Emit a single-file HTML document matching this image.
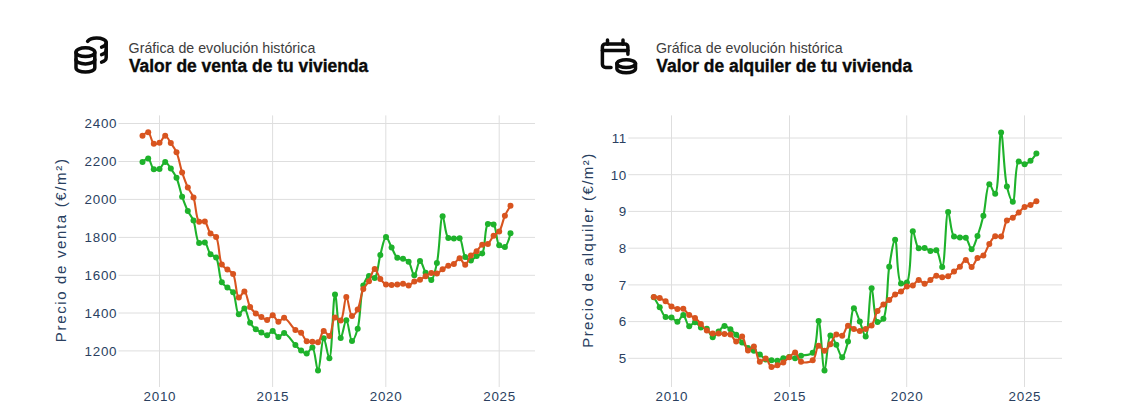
<!DOCTYPE html>
<html><head><meta charset="utf-8"><title>Valor de tu vivienda</title>
<style>
html,body{margin:0;padding:0;background:#fff}
body{width:1141px;height:411px;position:relative;overflow:hidden;font-family:"Liberation Sans",sans-serif}
.h{position:absolute;white-space:nowrap}
.sub{font-size:14.2px;color:#3d3d3d;top:37.5px;line-height:20px;letter-spacing:0.02px}
.tit{font-size:17.45px;font-weight:bold;color:#0a0a0a;-webkit-text-stroke:0.35px #0a0a0a;top:54.9px;line-height:22px}
</style></head><body>
<svg width="1141" height="411" viewBox="0 0 1141 411" style="position:absolute;left:0;top:0;font-family:'Liberation Sans',sans-serif">
<g stroke="#dedede" stroke-width="1" shape-rendering="auto">
<line x1="159.5" x2="159.5" y1="115.4" y2="387.0"/><line x1="272.6" x2="272.6" y1="115.4" y2="387.0"/><line x1="385.8" x2="385.8" y1="115.4" y2="387.0"/><line x1="499.2" x2="499.2" y1="115.4" y2="387.0"/><line x1="118.5" x2="535.0" y1="123.5" y2="123.5"/><line x1="118.5" x2="535.0" y1="161.5" y2="161.5"/><line x1="118.5" x2="535.0" y1="199.4" y2="199.4"/><line x1="118.5" x2="535.0" y1="237.4" y2="237.4"/><line x1="118.5" x2="535.0" y1="275.3" y2="275.3"/><line x1="118.5" x2="535.0" y1="313.0" y2="313.0"/><line x1="118.5" x2="535.0" y1="350.9" y2="350.9"/></g>
<g fill="#2a3f5f" font-size="13.4" letter-spacing="0.7">
<text x="159.9" y="401.3" text-anchor="middle">2010</text><text x="272.9" y="401.3" text-anchor="middle">2015</text><text x="386.1" y="401.3" text-anchor="middle">2020</text><text x="499.6" y="401.3" text-anchor="middle">2025</text><text x="117.2" y="128.3" text-anchor="end">2400</text><text x="117.2" y="166.3" text-anchor="end">2200</text><text x="117.2" y="204.2" text-anchor="end">2000</text><text x="117.2" y="242.2" text-anchor="end">1800</text><text x="117.2" y="280.1" text-anchor="end">1600</text><text x="117.2" y="317.8" text-anchor="end">1400</text><text x="117.2" y="355.7" text-anchor="end">1200</text></g>
<text fill="#2a3f5f" font-size="15" letter-spacing="1.65" text-anchor="middle" transform="translate(66.3,249.8) rotate(-90)">Precio de venta (€/m²)</text>
<path fill="none" stroke="#1eb22b" stroke-width="2.1" stroke-linejoin="round" stroke-linecap="round" d="M142.51,162.06Q146.50,158.09 148.18,158.55C150.44,159.16 151.43,167.90 153.84,169.25C155.48,170.17 157.78,169.77 159.50,168.90C161.65,167.81 163.26,162.08 165.16,162.06C167.04,162.04 169.03,166.15 170.82,168.60C172.83,171.33 174.81,174.06 176.49,177.80C178.75,182.86 180.13,190.88 182.15,196.70C183.93,201.84 185.74,206.78 187.81,211.00C189.57,214.58 191.82,216.55 193.47,220.55C195.85,226.32 195.97,240.72 199.13,242.95C200.71,244.06 203.17,241.48 204.80,242.40C207.28,243.80 208.11,251.73 210.46,254.30C212.12,256.11 214.55,255.50 216.12,257.65C219.21,261.88 218.92,277.32 221.78,282.30C223.37,285.06 225.53,285.93 227.44,287.60C229.30,289.22 231.51,289.72 233.11,292.20C235.91,296.58 236.07,313.47 238.77,314.20C240.37,314.63 242.76,308.16 244.43,308.50C246.73,308.97 247.85,319.02 250.09,322.70C251.78,325.46 253.72,327.52 255.75,329.20C257.53,330.67 259.51,331.48 261.42,332.50C263.29,333.51 265.25,335.48 267.08,335.30C269.03,335.10 270.92,330.74 272.74,330.90C274.71,331.07 276.42,336.89 278.40,337.10C280.21,337.29 281.95,332.85 284.06,333.05C287.31,333.36 292.24,341.75 295.39,344.97C297.58,347.21 299.04,349.13 301.05,350.60C302.84,351.91 304.94,353.86 306.71,353.55C308.74,353.19 310.77,346.99 312.37,347.40C315.07,348.09 316.28,370.46 318.04,370.40C320.10,370.33 321.55,338.41 323.70,338.30C325.42,338.21 327.77,358.45 329.36,358.30C332.16,358.04 332.92,294.44 335.02,294.40C336.76,294.36 338.18,337.72 340.68,337.95C342.31,338.10 344.52,320.21 346.35,320.25C348.31,320.29 349.85,340.72 352.01,340.90C353.72,341.04 356.08,334.17 357.67,328.70C360.53,318.85 360.21,294.50 363.33,285.50C364.91,280.96 366.71,276.86 368.99,276.00C370.67,275.37 373.08,278.72 374.66,277.85C377.79,276.11 378.31,262.03 380.32,254.90C382.11,248.56 383.83,237.30 385.98,237.10C387.70,236.94 389.74,244.14 391.64,247.60C393.52,251.01 394.95,256.03 397.30,257.70C398.96,258.88 401.13,258.05 402.97,258.70C404.91,259.38 406.99,259.99 408.63,261.80C411.09,264.53 412.43,275.32 414.29,275.30C416.20,275.28 417.98,260.97 419.95,260.90C421.77,260.83 423.53,269.32 425.61,272.70C427.36,275.54 429.61,280.33 431.28,280.05C433.59,279.66 435.33,270.23 436.94,263.05C439.55,251.41 440.21,216.36 442.60,216.20C444.25,216.09 445.13,235.35 448.26,238.00C449.84,239.33 452.04,238.46 453.92,238.50C455.81,238.54 458.00,237.13 459.59,238.25C462.52,240.33 462.51,253.35 465.25,256.90C466.85,258.98 469.06,260.50 470.91,260.40C472.83,260.30 474.61,257.19 476.57,256.00C478.40,254.89 480.67,255.39 482.23,253.40C485.66,249.04 484.31,226.91 487.90,224.10C489.46,222.88 491.98,223.13 493.56,224.40C496.64,226.89 496.19,242.24 499.22,245.30C500.80,246.89 503.26,247.68 504.88,246.90Q507.45,245.65 510.54,233.20"/>
<g fill="#1eb22b"><circle cx="142.5" cy="162.1" r="3"/><circle cx="148.2" cy="158.6" r="3"/><circle cx="153.8" cy="169.2" r="3"/><circle cx="159.5" cy="168.9" r="3"/><circle cx="165.2" cy="162.1" r="3"/><circle cx="170.8" cy="168.6" r="3"/><circle cx="176.5" cy="177.8" r="3"/><circle cx="182.1" cy="196.7" r="3"/><circle cx="187.8" cy="211.0" r="3"/><circle cx="193.5" cy="220.6" r="3"/><circle cx="199.1" cy="242.9" r="3"/><circle cx="204.8" cy="242.4" r="3"/><circle cx="210.5" cy="254.3" r="3"/><circle cx="216.1" cy="257.6" r="3"/><circle cx="221.8" cy="282.3" r="3"/><circle cx="227.4" cy="287.6" r="3"/><circle cx="233.1" cy="292.2" r="3"/><circle cx="238.8" cy="314.2" r="3"/><circle cx="244.4" cy="308.5" r="3"/><circle cx="250.1" cy="322.7" r="3"/><circle cx="255.8" cy="329.2" r="3"/><circle cx="261.4" cy="332.5" r="3"/><circle cx="267.1" cy="335.3" r="3"/><circle cx="272.7" cy="330.9" r="3"/><circle cx="278.4" cy="337.1" r="3"/><circle cx="284.1" cy="333.1" r="3"/><circle cx="295.4" cy="345.0" r="3"/><circle cx="301.1" cy="350.6" r="3"/><circle cx="306.7" cy="353.6" r="3"/><circle cx="312.4" cy="347.4" r="3"/><circle cx="318.0" cy="370.4" r="3"/><circle cx="323.7" cy="338.3" r="3"/><circle cx="329.4" cy="358.3" r="3"/><circle cx="335.0" cy="294.4" r="3"/><circle cx="340.7" cy="337.9" r="3"/><circle cx="346.3" cy="320.2" r="3"/><circle cx="352.0" cy="340.9" r="3"/><circle cx="357.7" cy="328.7" r="3"/><circle cx="363.3" cy="285.5" r="3"/><circle cx="369.0" cy="276.0" r="3"/><circle cx="374.7" cy="277.9" r="3"/><circle cx="380.3" cy="254.9" r="3"/><circle cx="386.0" cy="237.1" r="3"/><circle cx="391.6" cy="247.6" r="3"/><circle cx="397.3" cy="257.7" r="3"/><circle cx="403.0" cy="258.7" r="3"/><circle cx="408.6" cy="261.8" r="3"/><circle cx="414.3" cy="275.3" r="3"/><circle cx="420.0" cy="260.9" r="3"/><circle cx="425.6" cy="272.7" r="3"/><circle cx="431.3" cy="280.1" r="3"/><circle cx="436.9" cy="263.1" r="3"/><circle cx="442.6" cy="216.2" r="3"/><circle cx="448.3" cy="238.0" r="3"/><circle cx="453.9" cy="238.5" r="3"/><circle cx="459.6" cy="238.2" r="3"/><circle cx="465.2" cy="256.9" r="3"/><circle cx="470.9" cy="260.4" r="3"/><circle cx="476.6" cy="256.0" r="3"/><circle cx="482.2" cy="253.4" r="3"/><circle cx="487.9" cy="224.1" r="3"/><circle cx="493.6" cy="224.4" r="3"/><circle cx="499.2" cy="245.3" r="3"/><circle cx="504.9" cy="246.9" r="3"/><circle cx="510.5" cy="233.2" r="3"/></g>
<path fill="none" stroke="#d8541f" stroke-width="2.1" stroke-linejoin="round" stroke-linecap="round" d="M142.51,135.80Q146.51,131.83 148.18,132.30C150.48,132.96 151.40,142.38 153.84,143.65C155.48,144.50 157.78,143.78 159.50,142.80C161.65,141.57 163.29,135.78 165.16,135.80C167.06,135.82 169.00,140.48 170.82,143.10C172.79,145.92 174.82,148.42 176.49,152.20C178.81,157.48 180.12,166.21 182.15,172.40C183.92,177.81 185.74,182.98 187.81,187.40C189.56,191.15 191.83,193.19 193.47,197.40C195.89,203.59 195.85,219.11 199.13,221.65C200.70,222.86 203.17,220.49 204.80,221.50C207.30,223.04 208.10,230.99 210.46,233.60C212.11,235.44 214.55,234.79 216.12,237.00C219.35,241.56 218.77,259.09 221.78,264.40C223.36,267.18 225.52,267.98 227.44,269.60C229.30,271.17 231.52,271.54 233.11,274.00C236.02,278.52 236.04,296.88 238.77,297.60C240.37,298.02 242.77,291.17 244.43,291.50C246.76,291.97 247.79,303.01 250.09,306.90C251.76,309.72 253.73,311.66 255.75,313.40C257.54,314.93 259.51,315.89 261.42,317.00C263.28,318.09 265.25,320.19 267.08,320.00C269.04,319.80 270.92,315.15 272.74,315.30C274.71,315.46 276.40,321.57 278.40,321.80C280.20,322.01 281.96,317.48 284.06,317.70C287.32,318.03 292.03,327.65 295.39,330.10C297.43,331.59 299.35,331.24 301.05,332.70C303.24,334.58 304.45,339.95 306.71,341.30C308.39,342.30 310.49,341.63 312.37,341.80C314.26,341.97 316.40,343.22 318.04,342.30C320.48,340.93 321.49,331.34 323.70,330.90C325.40,330.56 327.75,336.31 329.36,335.85C331.95,335.11 332.25,318.55 335.02,317.40C336.62,316.74 339.11,321.11 340.68,320.40C343.73,319.03 344.35,297.15 346.35,297.10C348.15,297.05 349.53,315.36 352.01,315.90C353.64,316.26 356.05,312.49 357.67,309.50C360.22,304.79 360.90,294.06 363.33,289.00C364.97,285.60 367.24,284.19 368.99,281.20C371.07,277.65 372.68,268.98 374.66,268.90C376.47,268.82 378.22,276.16 380.32,278.90C382.06,281.18 383.90,283.56 385.98,284.50C387.73,285.29 389.75,284.88 391.64,284.90C393.53,284.92 395.42,284.80 397.30,284.60C399.20,284.40 401.10,283.56 402.97,283.70C404.87,283.84 406.81,285.79 408.63,285.50C410.60,285.19 412.32,282.43 414.29,281.45C416.11,280.55 418.12,280.53 419.95,279.70C421.90,278.82 423.72,277.32 425.61,276.20C427.49,275.09 429.32,273.41 431.28,273.00C433.10,272.62 435.15,274.11 436.94,273.60C438.95,273.03 440.68,270.54 442.60,269.20C444.45,267.91 446.32,266.59 448.26,265.70C450.10,264.86 452.16,264.97 453.92,263.90C455.97,262.66 457.73,258.23 459.59,258.30C461.51,258.37 463.46,264.95 465.25,264.80C467.26,264.63 468.77,257.87 470.91,255.50C472.64,253.59 474.77,252.89 476.57,251.20C478.56,249.34 480.11,245.85 482.23,244.70C483.96,243.76 486.21,244.94 487.90,243.90C490.13,242.52 491.48,237.86 493.56,235.70C495.31,233.88 497.59,233.65 499.22,231.45C501.72,228.06 502.78,220.28 504.88,215.70Q506.62,211.91 510.54,205.70"/>
<g fill="#d8541f"><circle cx="142.5" cy="135.8" r="3"/><circle cx="148.2" cy="132.3" r="3"/><circle cx="153.8" cy="143.7" r="3"/><circle cx="159.5" cy="142.8" r="3"/><circle cx="165.2" cy="135.8" r="3"/><circle cx="170.8" cy="143.1" r="3"/><circle cx="176.5" cy="152.2" r="3"/><circle cx="182.1" cy="172.4" r="3"/><circle cx="187.8" cy="187.4" r="3"/><circle cx="193.5" cy="197.4" r="3"/><circle cx="199.1" cy="221.7" r="3"/><circle cx="204.8" cy="221.5" r="3"/><circle cx="210.5" cy="233.6" r="3"/><circle cx="216.1" cy="237.0" r="3"/><circle cx="221.8" cy="264.4" r="3"/><circle cx="227.4" cy="269.6" r="3"/><circle cx="233.1" cy="274.0" r="3"/><circle cx="238.8" cy="297.6" r="3"/><circle cx="244.4" cy="291.5" r="3"/><circle cx="250.1" cy="306.9" r="3"/><circle cx="255.8" cy="313.4" r="3"/><circle cx="261.4" cy="317.0" r="3"/><circle cx="267.1" cy="320.0" r="3"/><circle cx="272.7" cy="315.3" r="3"/><circle cx="278.4" cy="321.8" r="3"/><circle cx="284.1" cy="317.7" r="3"/><circle cx="295.4" cy="330.1" r="3"/><circle cx="301.1" cy="332.7" r="3"/><circle cx="306.7" cy="341.3" r="3"/><circle cx="312.4" cy="341.8" r="3"/><circle cx="318.0" cy="342.3" r="3"/><circle cx="323.7" cy="330.9" r="3"/><circle cx="329.4" cy="335.9" r="3"/><circle cx="335.0" cy="317.4" r="3"/><circle cx="340.7" cy="320.4" r="3"/><circle cx="346.3" cy="297.1" r="3"/><circle cx="352.0" cy="315.9" r="3"/><circle cx="357.7" cy="309.5" r="3"/><circle cx="363.3" cy="289.0" r="3"/><circle cx="369.0" cy="281.2" r="3"/><circle cx="374.7" cy="268.9" r="3"/><circle cx="380.3" cy="278.9" r="3"/><circle cx="386.0" cy="284.5" r="3"/><circle cx="391.6" cy="284.9" r="3"/><circle cx="397.3" cy="284.6" r="3"/><circle cx="403.0" cy="283.7" r="3"/><circle cx="408.6" cy="285.5" r="3"/><circle cx="414.3" cy="281.4" r="3"/><circle cx="420.0" cy="279.7" r="3"/><circle cx="425.6" cy="276.2" r="3"/><circle cx="431.3" cy="273.0" r="3"/><circle cx="436.9" cy="273.6" r="3"/><circle cx="442.6" cy="269.2" r="3"/><circle cx="448.3" cy="265.7" r="3"/><circle cx="453.9" cy="263.9" r="3"/><circle cx="459.6" cy="258.3" r="3"/><circle cx="465.2" cy="264.8" r="3"/><circle cx="470.9" cy="255.5" r="3"/><circle cx="476.6" cy="251.2" r="3"/><circle cx="482.2" cy="244.7" r="3"/><circle cx="487.9" cy="243.9" r="3"/><circle cx="493.6" cy="235.7" r="3"/><circle cx="499.2" cy="231.4" r="3"/><circle cx="504.9" cy="215.7" r="3"/><circle cx="510.5" cy="205.7" r="3"/></g>
<g stroke="#dedede" stroke-width="1" shape-rendering="auto">
<line x1="671.5" x2="671.5" y1="115.4" y2="387.0"/><line x1="789.5" x2="789.5" y1="115.4" y2="387.0"/><line x1="906.7" x2="906.7" y1="115.4" y2="387.0"/><line x1="1024.5" x2="1024.5" y1="115.4" y2="387.0"/><line x1="628.3" x2="1062.0" y1="138.0" y2="138.0"/><line x1="628.3" x2="1062.0" y1="174.7" y2="174.7"/><line x1="628.3" x2="1062.0" y1="211.4" y2="211.4"/><line x1="628.3" x2="1062.0" y1="248.2" y2="248.2"/><line x1="628.3" x2="1062.0" y1="284.9" y2="284.9"/><line x1="628.3" x2="1062.0" y1="321.6" y2="321.6"/><line x1="628.3" x2="1062.0" y1="358.3" y2="358.3"/></g>
<g fill="#2a3f5f" font-size="13.4" letter-spacing="0.7">
<text x="671.9" y="401.3" text-anchor="middle">2010</text><text x="789.9" y="401.3" text-anchor="middle">2015</text><text x="907.1" y="401.3" text-anchor="middle">2020</text><text x="1024.9" y="401.3" text-anchor="middle">2025</text><text x="627.0" y="142.8" text-anchor="end">11</text><text x="627.0" y="179.5" text-anchor="end">10</text><text x="627.0" y="216.2" text-anchor="end">9</text><text x="627.0" y="253.0" text-anchor="end">8</text><text x="627.0" y="289.7" text-anchor="end">7</text><text x="627.0" y="326.4" text-anchor="end">6</text><text x="627.0" y="363.1" text-anchor="end">5</text></g>
<text fill="#2a3f5f" font-size="15" letter-spacing="1.41" text-anchor="middle" transform="translate(593.2,250.1) rotate(-90)">Precio de alquiler (€/m²)</text>
<path fill="none" stroke="#1eb22b" stroke-width="2.1" stroke-linejoin="round" stroke-linecap="round" d="M653.85,297.30Q657.76,303.99 659.73,307.30C661.68,310.59 663.20,315.65 665.62,317.10C667.35,318.14 669.64,316.73 671.50,317.40C673.58,318.15 675.51,321.99 677.38,321.80C679.45,321.59 681.45,314.94 683.27,315.15C685.43,315.41 686.82,325.61 689.15,326.20C690.91,326.64 693.12,322.18 695.04,322.30C697.05,322.43 698.82,326.32 700.92,327.40C702.78,328.35 705.05,327.60 706.81,328.80C709.11,330.36 710.61,337.01 712.70,337.20C714.56,337.37 716.61,333.34 718.58,331.45C720.53,329.57 722.41,326.14 724.47,325.90C726.35,325.68 728.46,327.91 730.35,329.30C732.40,330.81 734.35,332.70 736.24,334.75C738.29,337.00 740.08,340.06 742.12,342.35C744.01,344.47 745.91,346.68 748.00,348.10C749.86,349.36 751.97,349.66 753.89,350.70C755.90,351.79 757.85,353.13 759.77,354.55C761.78,356.02 763.56,358.46 765.66,359.40C767.51,360.23 769.58,360.07 771.54,360.30C773.50,360.53 775.51,361.12 777.43,360.80C779.44,360.46 781.32,358.84 783.32,358.20C785.24,357.59 787.24,357.00 789.20,357.00C791.16,357.00 793.15,358.39 795.09,358.20C797.08,358.00 798.64,356.49 800.97,355.70C804.19,354.61 809.85,355.78 812.74,352.70C817.44,347.69 816.83,321.09 818.62,321.15C820.85,321.22 822.36,370.45 824.51,370.50C826.33,370.54 827.44,335.94 830.39,335.35C832.05,335.02 834.41,341.34 836.28,344.75C838.36,348.55 840.29,357.28 842.16,357.20C844.23,357.12 846.33,347.87 848.05,341.60C850.50,332.67 851.35,308.61 853.93,308.30C855.63,308.09 857.90,317.02 859.82,321.60C861.83,326.41 864.05,336.71 865.70,336.50C868.59,336.13 869.42,288.36 871.59,288.30C873.41,288.25 873.81,320.26 877.48,322.00C879.10,322.77 881.73,321.15 883.36,318.70C887.90,311.87 886.86,281.17 889.25,266.70C890.98,256.19 893.35,239.63 895.13,239.70C897.38,239.79 896.58,280.08 901.01,283.40C902.64,284.62 905.27,284.20 906.90,282.50C911.71,277.51 909.97,231.61 912.78,231.30C914.45,231.12 915.78,246.38 918.67,248.30C920.33,249.40 922.65,247.51 924.55,247.90C926.58,248.31 928.42,250.54 930.44,250.90C932.35,251.24 934.67,249.17 936.33,250.20C939.19,251.98 940.56,267.09 942.21,266.90C945.13,266.56 945.57,212.26 948.10,212.10C949.80,211.99 950.62,233.49 953.98,236.55C955.61,238.04 957.90,237.19 959.87,237.40C961.82,237.61 964.04,236.68 965.75,237.80C968.27,239.45 969.73,249.25 971.63,249.20C973.66,249.14 975.71,240.94 977.52,236.00C979.70,230.05 981.61,223.33 983.40,215.80C985.62,206.49 986.48,184.72 989.29,184.20C990.95,183.89 993.55,194.18 995.17,193.80C998.98,192.92 999.03,132.41 1001.06,132.40C1002.96,132.39 1003.93,174.14 1006.94,186.50C1008.59,193.27 1011.15,201.89 1012.83,201.70C1015.49,201.40 1014.67,163.51 1018.71,161.40C1020.34,160.55 1022.66,164.43 1024.60,164.35C1026.58,164.27 1028.65,162.39 1030.49,160.80Q1032.62,158.94 1036.37,153.55"/>
<g fill="#1eb22b"><circle cx="653.8" cy="297.3" r="3"/><circle cx="659.7" cy="307.3" r="3"/><circle cx="665.6" cy="317.1" r="3"/><circle cx="671.5" cy="317.4" r="3"/><circle cx="677.4" cy="321.8" r="3"/><circle cx="683.3" cy="315.1" r="3"/><circle cx="689.2" cy="326.2" r="3"/><circle cx="695.0" cy="322.3" r="3"/><circle cx="700.9" cy="327.4" r="3"/><circle cx="706.8" cy="328.8" r="3"/><circle cx="712.7" cy="337.2" r="3"/><circle cx="718.6" cy="331.4" r="3"/><circle cx="724.5" cy="325.9" r="3"/><circle cx="730.4" cy="329.3" r="3"/><circle cx="736.2" cy="334.8" r="3"/><circle cx="742.1" cy="342.4" r="3"/><circle cx="748.0" cy="348.1" r="3"/><circle cx="753.9" cy="350.7" r="3"/><circle cx="759.8" cy="354.6" r="3"/><circle cx="765.7" cy="359.4" r="3"/><circle cx="771.5" cy="360.3" r="3"/><circle cx="777.4" cy="360.8" r="3"/><circle cx="783.3" cy="358.2" r="3"/><circle cx="789.2" cy="357.0" r="3"/><circle cx="795.1" cy="358.2" r="3"/><circle cx="801.0" cy="355.7" r="3"/><circle cx="812.7" cy="352.7" r="3"/><circle cx="818.6" cy="321.1" r="3"/><circle cx="824.5" cy="370.5" r="3"/><circle cx="830.4" cy="335.4" r="3"/><circle cx="836.3" cy="344.8" r="3"/><circle cx="842.2" cy="357.2" r="3"/><circle cx="848.0" cy="341.6" r="3"/><circle cx="853.9" cy="308.3" r="3"/><circle cx="859.8" cy="321.6" r="3"/><circle cx="865.7" cy="336.5" r="3"/><circle cx="871.6" cy="288.3" r="3"/><circle cx="877.5" cy="322.0" r="3"/><circle cx="883.4" cy="318.7" r="3"/><circle cx="889.2" cy="266.7" r="3"/><circle cx="895.1" cy="239.7" r="3"/><circle cx="901.0" cy="283.4" r="3"/><circle cx="906.9" cy="282.5" r="3"/><circle cx="912.8" cy="231.3" r="3"/><circle cx="918.7" cy="248.3" r="3"/><circle cx="924.6" cy="247.9" r="3"/><circle cx="930.4" cy="250.9" r="3"/><circle cx="936.3" cy="250.2" r="3"/><circle cx="942.2" cy="266.9" r="3"/><circle cx="948.1" cy="212.1" r="3"/><circle cx="954.0" cy="236.6" r="3"/><circle cx="959.9" cy="237.4" r="3"/><circle cx="965.8" cy="237.8" r="3"/><circle cx="971.6" cy="249.2" r="3"/><circle cx="977.5" cy="236.0" r="3"/><circle cx="983.4" cy="215.8" r="3"/><circle cx="989.3" cy="184.2" r="3"/><circle cx="995.2" cy="193.8" r="3"/><circle cx="1001.1" cy="132.4" r="3"/><circle cx="1006.9" cy="186.5" r="3"/><circle cx="1012.8" cy="201.7" r="3"/><circle cx="1018.7" cy="161.4" r="3"/><circle cx="1024.6" cy="164.3" r="3"/><circle cx="1030.5" cy="160.8" r="3"/><circle cx="1036.4" cy="153.6" r="3"/></g>
<path fill="none" stroke="#d8541f" stroke-width="2.1" stroke-linejoin="round" stroke-linecap="round" d="M653.85,296.90Q657.82,297.45 659.73,298.15C661.75,298.89 663.72,300.00 665.62,301.30C667.66,302.71 669.44,305.09 671.50,306.40C673.38,307.59 675.38,308.63 677.38,309.00C679.31,309.35 681.47,307.96 683.27,308.70C685.47,309.60 687.03,313.57 689.15,315.15C690.99,316.51 693.19,316.63 695.04,317.95C697.14,319.44 698.99,321.83 700.92,323.90C702.92,326.04 704.68,328.95 706.81,330.60C708.64,332.02 710.68,333.07 712.70,333.55C714.60,334.00 716.62,333.47 718.58,333.55C720.54,333.63 722.50,333.89 724.47,334.05C726.43,334.21 728.56,333.58 730.35,334.50C732.58,335.64 734.18,341.33 736.24,341.50C738.12,341.66 740.39,336.09 742.12,336.50C744.55,337.08 745.51,349.82 748.00,350.55C749.72,351.05 752.19,345.98 753.89,346.50C756.45,347.29 757.14,360.72 759.77,361.70C761.46,362.33 763.87,358.13 765.66,358.56C767.88,359.09 769.26,366.19 771.54,366.98C773.31,367.59 775.50,365.95 777.43,365.20C779.42,364.43 781.43,363.63 783.32,362.40C785.37,361.05 787.22,358.94 789.20,357.30C791.14,355.69 793.27,352.35 795.09,352.65C797.26,353.01 798.14,360.37 800.97,361.70C803.94,363.09 809.85,362.51 812.74,360.30C816.06,357.76 816.17,346.42 818.62,345.80C820.34,345.37 822.61,350.83 824.51,350.70C826.54,350.56 828.54,346.68 830.39,344.20C832.50,341.38 833.89,335.54 836.28,334.50C838.02,333.74 840.43,336.47 842.16,335.70C844.57,334.63 845.74,326.34 848.05,325.70C849.81,325.21 851.94,327.99 853.93,328.90C855.87,329.78 857.86,331.10 859.82,331.10C861.78,331.10 863.78,329.82 865.70,328.90C867.71,327.94 869.89,327.38 871.59,325.40C874.16,322.41 875.14,314.62 877.48,310.90C879.23,308.11 881.30,306.26 883.36,304.40C885.24,302.70 887.33,301.67 889.25,300.06C891.26,298.37 893.05,295.89 895.13,294.45C897.00,293.16 899.14,292.85 901.01,291.60C903.08,290.23 904.78,287.39 906.90,286.40C908.74,285.54 910.95,286.40 912.78,285.50C914.92,284.45 916.63,280.08 918.67,279.90C920.57,279.73 922.59,283.76 924.55,283.76C926.52,283.76 928.49,281.23 930.44,279.90C932.42,278.55 934.27,276.08 936.33,275.70C938.21,275.35 940.24,277.12 942.21,277.20C944.16,277.28 946.24,277.04 948.10,276.20C950.19,275.25 952.01,272.99 953.98,271.40C955.94,269.82 957.98,268.51 959.87,266.70C961.92,264.72 963.80,259.89 965.75,259.90C967.72,259.91 969.74,267.00 971.63,266.90C973.67,266.79 975.25,260.01 977.52,258.10C979.29,256.61 981.68,257.13 983.40,255.50C985.85,253.18 987.16,247.29 989.29,243.90C991.13,240.98 992.90,237.24 995.17,236.20C996.95,235.39 999.40,237.64 1001.06,236.55C1003.89,234.70 1004.22,223.44 1006.94,220.50C1008.62,218.69 1010.96,219.03 1012.83,217.80C1014.90,216.45 1016.77,214.35 1018.71,212.55C1020.69,210.72 1022.48,208.18 1024.60,206.90C1026.44,205.79 1028.58,205.86 1030.49,204.95Q1032.51,203.99 1036.37,201.20"/>
<g fill="#d8541f"><circle cx="653.8" cy="296.9" r="3"/><circle cx="659.7" cy="298.1" r="3"/><circle cx="665.6" cy="301.3" r="3"/><circle cx="671.5" cy="306.4" r="3"/><circle cx="677.4" cy="309.0" r="3"/><circle cx="683.3" cy="308.7" r="3"/><circle cx="689.2" cy="315.1" r="3"/><circle cx="695.0" cy="317.9" r="3"/><circle cx="700.9" cy="323.9" r="3"/><circle cx="706.8" cy="330.6" r="3"/><circle cx="712.7" cy="333.6" r="3"/><circle cx="718.6" cy="333.6" r="3"/><circle cx="724.5" cy="334.1" r="3"/><circle cx="730.4" cy="334.5" r="3"/><circle cx="736.2" cy="341.5" r="3"/><circle cx="742.1" cy="336.5" r="3"/><circle cx="748.0" cy="350.6" r="3"/><circle cx="753.9" cy="346.5" r="3"/><circle cx="759.8" cy="361.7" r="3"/><circle cx="765.7" cy="358.6" r="3"/><circle cx="771.5" cy="367.0" r="3"/><circle cx="777.4" cy="365.2" r="3"/><circle cx="783.3" cy="362.4" r="3"/><circle cx="789.2" cy="357.3" r="3"/><circle cx="795.1" cy="352.6" r="3"/><circle cx="801.0" cy="361.7" r="3"/><circle cx="812.7" cy="360.3" r="3"/><circle cx="818.6" cy="345.8" r="3"/><circle cx="824.5" cy="350.7" r="3"/><circle cx="830.4" cy="344.2" r="3"/><circle cx="836.3" cy="334.5" r="3"/><circle cx="842.2" cy="335.7" r="3"/><circle cx="848.0" cy="325.7" r="3"/><circle cx="853.9" cy="328.9" r="3"/><circle cx="859.8" cy="331.1" r="3"/><circle cx="865.7" cy="328.9" r="3"/><circle cx="871.6" cy="325.4" r="3"/><circle cx="877.5" cy="310.9" r="3"/><circle cx="883.4" cy="304.4" r="3"/><circle cx="889.2" cy="300.1" r="3"/><circle cx="895.1" cy="294.4" r="3"/><circle cx="901.0" cy="291.6" r="3"/><circle cx="906.9" cy="286.4" r="3"/><circle cx="912.8" cy="285.5" r="3"/><circle cx="918.7" cy="279.9" r="3"/><circle cx="924.6" cy="283.8" r="3"/><circle cx="930.4" cy="279.9" r="3"/><circle cx="936.3" cy="275.7" r="3"/><circle cx="942.2" cy="277.2" r="3"/><circle cx="948.1" cy="276.2" r="3"/><circle cx="954.0" cy="271.4" r="3"/><circle cx="959.9" cy="266.7" r="3"/><circle cx="965.8" cy="259.9" r="3"/><circle cx="971.6" cy="266.9" r="3"/><circle cx="977.5" cy="258.1" r="3"/><circle cx="983.4" cy="255.5" r="3"/><circle cx="989.3" cy="243.9" r="3"/><circle cx="995.2" cy="236.2" r="3"/><circle cx="1001.1" cy="236.6" r="3"/><circle cx="1006.9" cy="220.5" r="3"/><circle cx="1012.8" cy="217.8" r="3"/><circle cx="1018.7" cy="212.6" r="3"/><circle cx="1024.6" cy="206.9" r="3"/><circle cx="1030.5" cy="204.9" r="3"/><circle cx="1036.4" cy="201.2" r="3"/></g>
<g fill="none" stroke="#0a0a0a" stroke-width="3.5" stroke-linecap="round" stroke-linejoin="round">
<ellipse cx="85.4" cy="52.2" rx="9.4" ry="4.4"/>
<path d="M76 52.2V67.7c0 2.4 4.2 4.4 9.4 4.4s9.4-2 9.4-4.4V52.2"/>
<path d="M76 59.6c0 2.4 4.2 4.4 9.4 4.4s9.4-2 9.4-4.4"/>
<path d="M87.6 41.4c1.5-2 5-3.3 9-3.3c5.3 0 9.6 1.9 9.6 4.4V57.6c0 2-1.8 3.7-4.6 4.6"/>
<path d="M106.2 42.5c0 2-1.8 3.7-4.6 4.6"/>
<path d="M106.2 50c0 2-1.8 3.7-4.6 4.6"/>
</g>
<g fill="none" stroke="#0a0a0a" stroke-width="3.5" stroke-linecap="round" stroke-linejoin="round">
<path d="M611 67.5H605.6a3.2 3.2 0 0 1-3.2-3.2V47.1a3.2 3.2 0 0 1 3.2-3.2H624.7a3.2 3.2 0 0 1 3.2 3.2V54.3"/>
<path d="M602.4 50.6H627.9"/>
<path d="M607.5 39.9V44.2M623 39.9V44.2"/>
<ellipse cx="626.2" cy="63.6" rx="9.3" ry="3.9"/>
<path d="M616.9 63.6V68.8c0 2.2 4.2 3.9 9.3 3.9s9.3-1.7 9.3-3.9V63.6"/>
</g>
</svg>
<div class="h sub" style="left:128.6px">Gráfica de evolución histórica</div>
<div class="h tit" style="left:128.9px">Valor de venta de tu vivienda</div>
<div class="h sub" style="left:655.9px">Gráfica de evolución histórica</div>
<div class="h tit" style="left:656.3px">Valor de alquiler de tu vivienda</div>
</body></html>
